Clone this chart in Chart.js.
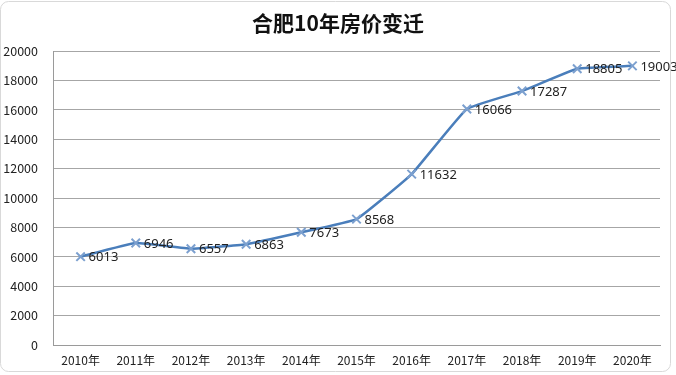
<!DOCTYPE html>
<html>
<head>
<meta charset="utf-8">
<script src="https://cdn.jsdelivr.net/npm/chart.js@4"></script>
<style>
html,body{margin:0;padding:0;background:#fff;}
#wrap{width:676px;height:375px;position:relative;}
</style>
</head>
<body>
<div id="wrap"><canvas id="c" width="676" height="375"></canvas></div>
<script>
const titleText = '合肥10年房价变迁';
const categories = ['2010年','2011年','2012年','2013年','2014年','2015年','2016年','2017年','2018年','2019年','2020年'];
const prices = [6013, 6946, 6557, 6863, 7673, 8568, 11632, 16066, 17287, 18805, 19003];
const yTicks = [0, 2000, 4000, 6000, 8000, 10000, 12000, 14000, 16000, 18000, 20000];

const frame = {
  id: 'frame',
  beforeDraw(chart) {
    const ctx = chart.ctx;
    ctx.save();
    ctx.fillStyle = '#fff';
    ctx.fillRect(0, 0, chart.width, chart.height);
    ctx.strokeStyle = '#d9d9d9';
    ctx.lineWidth = 1;
    ctx.beginPath();
    ctx.roundRect(0.5, 1.5, 670, 370, 8);
    ctx.stroke();
    ctx.restore();
  }
};

const valueLabels = {
  id: 'valueLabels',
  afterDatasetsDraw(chart) {
    const ctx = chart.ctx;
    const meta = chart.getDatasetMeta(0);
    ctx.save();
    ctx.font = '13px "Noto Sans", "Noto Sans CJK SC", sans-serif';
    ctx.fillStyle = '#222';
    ctx.textAlign = 'left';
    ctx.textBaseline = 'middle';
    meta.data.forEach((pt, i) => {
      ctx.fillText(String(chart.data.datasets[0].data[i]), pt.x + 8, pt.y + 1);
    });
    ctx.restore();
  }
};

new Chart(document.getElementById('c'), {
  type: 'line',
  data: {
    labels: categories,
    datasets: [{
      data: prices,
      yAxisID: 'y',
      borderColor: '#4a7ebb',
      borderWidth: 2.5,
      tension: 0.1,
      pointStyle: 'crossRot',
      pointRadius: 6,
      pointBorderWidth: 2,
      pointBorderColor: '#7ca0cf',
      pointBackgroundColor: '#7ca0cf',
      pointHoverRadius: 6
    }]
  },
  options: {
    responsive: false,
    animation: false,
    events: [],
    layout: { padding: 0 },
    plugins: {
      legend: { display: false },
      tooltip: { enabled: false },
      title: {
        display: true,
        text: titleText,
        color: '#111',
        font: { family: '"Noto Sans CJK SC", sans-serif', size: 21, weight: 'bold' },
        padding: { top: 10, bottom: 16 }
      }
    },
    scales: {
      x: {
        offset: true,
        grid: { display: false, drawTicks: false },
        border: { display: true, color: '#9a9a9a', width: 1 },
        ticks: {
          color: '#222',
          padding: 8,
          maxRotation: 0,
          autoSkip: false,
          font: { family: '"Noto Sans CJK SC", sans-serif', size: 12 }
        },
        afterFit(s) { s.height = 30; }
      },
      y: {
        min: 0,
        max: 20000,
        afterBuildTicks(s) { s.ticks = yTicks.map(v => ({ value: v })); },
        grid: { color: '#a6a6a6', lineWidth: 1, drawTicks: false },
        border: { display: true, color: '#9a9a9a', width: 1 },
        ticks: {
          color: '#222',
          padding: 15,
          callback: v => String(v),
          font: { family: '"Noto Sans CJK SC", sans-serif', size: 12.5 }
        },
        afterFit(s) { s.width = 53; }
      },
      yRightSpace: {
        position: 'right',
        min: 0,
        max: 20000,
        grid: { display: false, drawTicks: false },
        border: { display: false },
        ticks: { display: false },
        afterFit(s) { s.width = 16; }
      }
    }
  },
  plugins: [frame, valueLabels]
});
</script>
</body>
</html>
